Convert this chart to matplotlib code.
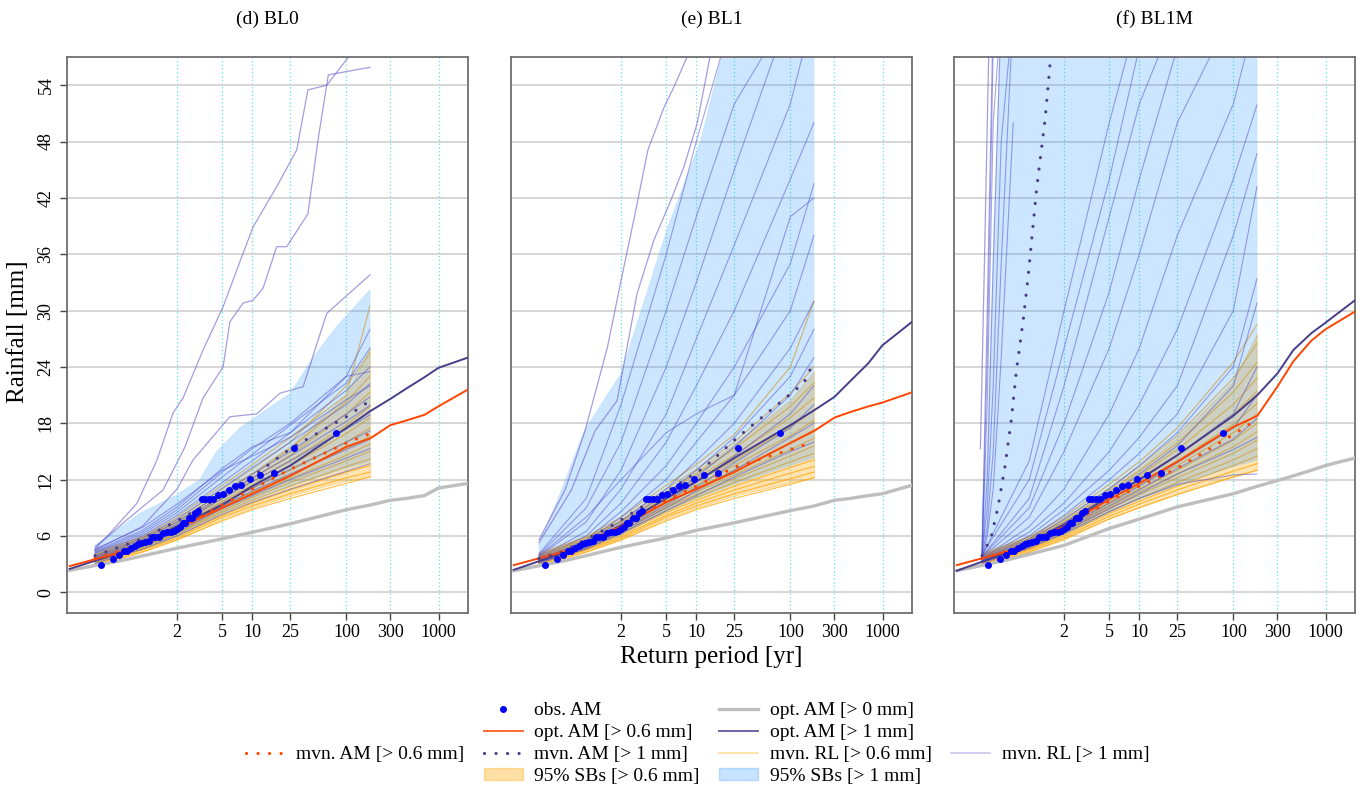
import numpy as np
import matplotlib.pyplot as plt
from matplotlib.lines import Line2D
from matplotlib.patches import Patch

plt.rcParams['font.family'] = ['Liberation Serif', 'DejaVu Serif']

# x positions are Gumbel reduced variates, y = -ln(-ln(1 - 1/T))
def gumbel(T):
    T = np.asarray(T, dtype=float)
    return -np.log(-np.log(1 - 1 / T))

T_TICKS = [2, 5, 10, 25, 100, 300, 1000]
Y_TICKS = [0, 6, 12, 18, 24, 30, 36, 42, 48, 54]
TITLES = ['(d) BL0', '(e) BL1', '(f) BL1M']

# observed annual maxima (same in all panels)
obs_u = [-1.52, -1.24, -1.08, -0.96, -0.87, -0.77, -0.68, -0.60, -0.52, -0.42,
         -0.33, -0.25, -0.17, -0.08, 0.01, 0.11, 0.21, 0.29, 0.38, 0.44,
         0.51, 0.58, 0.67, 0.75, 0.82, 0.90, 0.99, 1.07, 1.18, 1.27,
         1.40, 1.51, 1.66, 1.82, 1.98, 2.20, 2.45, 2.80, 3.30, 4.34]
obs_v = [2.95, 3.5, 3.97, 4.44, 4.40, 4.72, 4.93, 5.11, 5.22, 5.36,
         5.50, 5.89, 5.93, 5.93, 6.32, 6.43, 6.43, 6.53, 6.78, 6.96,
         7.38, 7.38, 7.91, 7.91, 8.41, 8.66, 9.90, 9.90, 9.90, 9.90,
         10.40, 10.47, 10.90, 11.29, 11.43, 12.11, 12.53, 12.71, 15.41, 16.93]

# knots
U_OPT = [-2.31, -1.0, 0.37, 1.5, 2.25, 3.2, 4.6, 5.2, 5.7, 6.1, 6.55, 6.9, 7.64]
U_SB = [-1.68, -0.5, 0.37, 1.5, 2.25, 3.2, 4.6, 5.19]
U_STEEP = [-1.68, -1.55, -1.4, -1.2, -0.9]

# ---- panel (d) BL0 ----
d_opt0 = [2.35, 3.4, 4.7, 5.7, 6.4, 7.3, 8.8, 9.3, 9.8, 10.0, 10.3, 11.1, 11.6]
d_opt06 = [2.8, 4.3, 6.8, 9.0, 10.5, 12.4, 15.5, 16.4, 17.8, 18.3, 18.9, 19.8, 21.6]
d_opt1 = [2.5, 4.3, 7.0, 9.3, 11.3, 13.5, 17.5, 19.3, 20.6, 21.7, 22.9, 23.9, 25.0]
d_mvn06 = [3.6, 5.1, 6.6, 9.3, 11.0, 13.1, 15.9, 16.9]
d_mvn1_u = U_SB
d_mvn1 = [3.9, 5.7, 7.6, 10.3, 12.3, 15.3, 18.7, 20.4]
d_sb06_lo = [2.8, 4.3, 5.6, 7.8, 9.0, 10.3, 11.9, 12.3]
d_sb06_hi = [4.4, 6.0, 7.6, 10.8, 12.8, 15.6, 21.0, 26.0]
d_sb1_lo = [3.1, 4.6, 6.0, 8.4, 9.8, 11.3, 13.2, 13.9]
d_sb1_hi_u = [-1.68, -0.56, 0.37, 0.94, 1.36, 1.94, 3.2, 3.77, 4.36, 5.19]
d_sb1_hi = [5.0, 8.4, 10.4, 12.0, 15.0, 17.5, 21.2, 25.0, 28.3, 32.2]
d_rl06 = [[2.9, 4.3, 5.6, 7.6, 8.8, 10.0, 11.6, 12.3],
          [3.0, 4.5, 5.8, 8.0, 9.2, 10.5, 12.2, 12.8],
          [3.1, 4.6, 6.0, 8.2, 9.5, 10.9, 12.8, 13.5],
          [3.2, 4.7, 6.2, 8.5, 9.8, 11.3, 13.4, 14.2],
          [3.3, 4.8, 6.3, 8.7, 10.1, 11.7, 14.0, 15.0],
          [3.3, 4.9, 6.5, 9.0, 10.4, 12.1, 14.6, 15.8],
          [3.4, 5.0, 6.6, 9.2, 10.7, 12.5, 15.3, 16.6],
          [3.5, 5.1, 6.8, 9.5, 11.1, 13.0, 16.0, 17.5],
          [3.5, 5.2, 6.9, 9.7, 11.4, 13.5, 16.9, 18.6],
          [3.6, 5.3, 7.1, 10.0, 11.8, 14.0, 17.8, 19.8],
          [3.7, 5.4, 7.2, 10.2, 12.1, 14.6, 19.0, 21.3],
          [3.8, 5.6, 7.5, 10.6, 12.6, 15.3, 20.3, 23.0],
          [3.9, 5.7, 7.7, 11.0, 13.1, 16.0, 22.0, 25.5],
          [4.0, 5.9, 8.0, 11.4, 13.6, 16.5, 21.0, 30.5]]
d_rl1 = [[3.1, 4.6, 6.0, 8.3, 9.6, 11.0, 12.9, 13.7],
         [3.3, 4.9, 6.4, 8.9, 10.3, 12.0, 14.3, 15.3],
         [3.4, 5.0, 6.6, 9.2, 10.8, 12.6, 15.2, 16.3],
         [3.5, 5.1, 6.8, 9.5, 11.1, 13.1, 16.0, 17.2],
         [3.6, 5.3, 7.1, 10.0, 11.8, 14.0, 17.4, 18.9],
         [3.7, 5.4, 7.3, 10.3, 12.2, 14.5, 18.2, 19.9],
         [3.8, 5.6, 7.5, 10.6, 12.6, 15.0, 19.0, 20.8],
         [3.9, 5.8, 7.8, 11.1, 13.3, 16.0, 20.0, 22.2],
         [4.1, 6.0, 8.2, 11.7, 14.0, 17.0, 21.5, 24.0],
         [4.2, 6.2, 8.5, 12.3, 14.7, 17.8, 22.3, 26.0],
         [4.3, 6.4, 8.8, 12.8, 15.3, 18.0, 23.0, 23.5],
         [4.4, 6.6, 9.1, 13.2, 15.5, 17.0, 23.0, 28.0],
         [4.6, 6.9, 9.4, 13.0, 14.5, 16.5, 20.5, 22.0]]
d_wild_u = [[-1.68, -1.39, -0.63, -0.13, 0.27, 0.52, 1.02, 1.52, 1.94, 2.27, 2.86, 3.36, 3.64, 4.11, 4.69, 4.9],
            [-1.68, -1.56, -0.89, 0.02, 0.57, 1.02, 1.52, 1.69, 2.02, 2.27, 2.52, 2.86, 3.11, 3.64, 3.89, 4.15, 5.19],
            [-1.68, -0.5, 0.37, 0.77, 1.69, 2.36, 2.94, 3.52, 4.11, 5.19]]
d_wild_v = [[4.8, 5.9, 9.5, 14.1, 19.1, 20.7, 25.8, 30.4, 35.2, 38.9, 43.2, 47.1, 53.5, 54.0, 57.2, 59],
            [4.5, 5.2, 7.7, 10.9, 15.5, 20.7, 24.0, 28.8, 30.8, 31.1, 32.4, 36.8, 36.8, 40.3, 48.1, 55.1, 55.9],
            [4.5, 7.0, 11.0, 14.1, 18.7, 19.0, 21.2, 21.9, 29.7, 33.8]]
d_steep = []

# ---- panel (e) BL1 ----
e_opt0 = [2.3, 3.4, 4.8, 5.8, 6.6, 7.4, 8.7, 9.2, 9.8, 10.0, 10.3, 10.5, 11.4]
e_opt06 = [2.9, 4.4, 7.0, 9.6, 11.0, 12.8, 15.9, 17.2, 18.6, 19.2, 19.8, 20.2, 21.3]
e_opt1 = [2.4, 4.3, 7.1, 10.0, 11.8, 14.3, 17.8, 19.4, 20.8, 22.5, 24.4, 26.3, 28.8]
e_mvn06 = [3.6, 5.2, 7.1, 9.8, 11.3, 13.3, 15.2, 16.0]
e_mvn1_u = [-1.68, -1.16, 0.1, 1.57, 2.45, 3.28, 4.11, 4.94, 5.19]
e_mvn1 = [3.6, 4.15, 7.0, 10.9, 13.3, 16.5, 19.4, 22.3, 24.6]
e_sb06_lo = [2.8, 4.3, 5.6, 7.8, 9.0, 10.3, 11.7, 12.2]
e_sb06_hi = [4.3, 6.0, 7.6, 10.8, 12.9, 15.8, 20.5, 23.5]
e_sb1_lo = [3.2, 4.7, 6.1, 8.6, 10.0, 11.5, 13.5, 14.3]
e_sb1_hi_u = [-1.68, -1.2, -0.55, 0.37, 0.76, 1.54, 2.36, 2.91, 5.19]
e_sb1_hi = [5.2, 10.0, 17.2, 23.3, 28.5, 38.9, 48.1, 57.5, 62]
e_rl06 = [[2.9, 4.3, 5.6, 7.6, 8.8, 10.0, 11.5, 12.2],
          [3.0, 4.5, 5.8, 8.0, 9.2, 10.5, 12.1, 12.8],
          [3.1, 4.6, 6.0, 8.2, 9.5, 10.9, 12.7, 13.4],
          [3.2, 4.7, 6.2, 8.5, 9.8, 11.3, 13.3, 14.1],
          [3.3, 4.8, 6.3, 8.7, 10.1, 11.7, 13.9, 14.8],
          [3.3, 4.9, 6.5, 9.0, 10.4, 12.1, 14.5, 15.6],
          [3.4, 5.0, 6.6, 9.2, 10.7, 12.5, 15.2, 16.4],
          [3.5, 5.1, 6.8, 9.5, 11.1, 13.0, 15.9, 17.3],
          [3.5, 5.2, 6.9, 9.7, 11.4, 13.5, 16.7, 18.3],
          [3.6, 5.3, 7.1, 10.0, 11.8, 14.0, 17.6, 19.4],
          [3.7, 5.4, 7.2, 10.2, 12.1, 14.6, 18.6, 20.7],
          [3.8, 5.6, 7.5, 10.6, 12.6, 15.3, 19.8, 22.3],
          [3.9, 5.7, 7.7, 11.0, 13.1, 16.0, 21.2, 24.0],
          [4.0, 5.9, 8.0, 11.4, 13.6, 16.8, 24.0, 31.0]]
e_rl1 = [[4.0, 9.0, 16.0, 30.0, 40.0, 52.0, 62, 62],
         [3.8, 7.5, 13.0, 24.0, 33.0, 45.0, 62, 62],
         [3.7, 6.5, 11.0, 19.0, 27.0, 37.0, 52.0, 62],
         [3.6, 6.0, 9.5, 16.0, 22.0, 30.0, 44.0, 50.0],
         [3.5, 5.6, 8.6, 13.5, 18.0, 24.0, 35.0, 43.5],
         [3.5, 5.4, 8.0, 12.0, 16.0, 21.0, 30.0, 38.0],
         [3.4, 5.2, 7.6, 11.0, 14.0, 18.0, 26.0, 31.0],
         [3.4, 5.1, 7.3, 10.5, 13.0, 16.5, 23.0, 28.0],
         [3.3, 5.0, 7.1, 10.0, 12.3, 15.5, 21.0, 25.0],
         [3.3, 4.9, 6.9, 9.6, 11.7, 14.5, 19.0, 22.0],
         [3.2, 4.8, 6.7, 9.3, 11.2, 13.8, 17.5, 20.0],
         [3.2, 4.7, 6.5, 9.0, 10.8, 13.0, 16.5, 18.0],
         [3.1, 4.6, 6.3, 8.7, 10.3, 12.3, 15.0, 16.0],
         [3.9, 8.0, 12.0, 17.0, 19.0, 21.0, 40.0, 42.0],
         [4.1, 10.0, 20.0, 36.0, 48.0, 62, 62, 62]]
e_wild_u = [[-1.68, -1.03, -0.53, 0.03, 0.37, 0.72, 1.04, 1.45, 1.69, 2.04, 2.3],
            [-1.68, -0.87, -0.28, 0.27, 0.77, 1.19, 1.61, 1.94, 2.27, 2.6, 2.8]]
e_wild_v = [[5.6, 10.9, 17.2, 26.1, 33.2, 40.3, 47.1, 51.7, 53.8, 57.2, 59],
            [5.3, 10.9, 17.2, 20.4, 31.8, 37.5, 41.7, 45.3, 49.9, 57.2, 59]]
e_steep = []

# ---- panel (f) BL1M ----
f_opt0 = [2.3, 3.5, 5.0, 6.8, 7.8, 9.1, 10.5, 11.3, 11.9, 12.4, 13.0, 13.5, 14.3]
f_opt06 = [2.9, 4.4, 7.0, 9.9, 11.6, 13.9, 17.6, 18.8, 21.9, 24.6, 26.8, 28.0, 29.9]
f_opt1 = [2.3, 4.3, 7.2, 10.2, 12.0, 14.6, 18.8, 21.0, 23.3, 25.8, 27.6, 28.7, 31.1]
f_mvn06 = [3.6, 5.1, 6.9, 9.7, 11.3, 13.2, 16.8, 18.4]
f_mvn1_u = [-1.68, -1.45, -1.28, -1.11, -0.95, -0.82, -0.65, -0.53, -0.32, -0.1, 0.04, 0.1]
f_mvn1 = [3.9, 5.9, 9.1, 13.3, 18.3, 23.6, 29.0, 33.5, 42.8, 50.5, 57.2, 59]
f_sb06_lo = [2.8, 4.3, 5.6, 7.9, 9.1, 10.5, 12.3, 13.0]
f_sb06_hi = [4.3, 6.0, 7.6, 11.0, 13.2, 16.5, 22.5, 27.5]
f_sb1_lo = [3.3, 4.8, 6.1, 8.5, 9.9, 11.4, 13.4, 14.1]
f_sb1_hi_u = [-1.68, -1.55, -1.45, -1.23, 5.19]
f_sb1_hi = [9.2, 15.0, 29.0, 57.5, 62]
f_rl06 = [[2.9, 4.3, 5.7, 7.8, 9.0, 10.4, 12.3, 13.0],
          [3.0, 4.5, 5.9, 8.1, 9.4, 10.9, 12.9, 13.7],
          [3.1, 4.6, 6.1, 8.4, 9.7, 11.3, 13.5, 14.5],
          [3.2, 4.7, 6.2, 8.6, 10.0, 11.7, 14.1, 15.3],
          [3.3, 4.8, 6.4, 8.9, 10.4, 12.2, 14.8, 16.2],
          [3.3, 4.9, 6.5, 9.1, 10.7, 12.6, 15.5, 17.1],
          [3.4, 5.0, 6.7, 9.4, 11.0, 13.0, 16.2, 18.0],
          [3.5, 5.1, 6.8, 9.6, 11.4, 13.5, 17.0, 19.0],
          [3.5, 5.2, 7.0, 9.9, 11.7, 14.0, 17.9, 20.1],
          [3.6, 5.3, 7.1, 10.1, 12.1, 14.6, 18.9, 21.4],
          [3.7, 5.4, 7.3, 10.4, 12.4, 15.2, 20.0, 22.8],
          [3.8, 5.6, 7.5, 10.7, 12.9, 15.9, 21.3, 24.5],
          [3.9, 5.7, 7.7, 11.1, 13.4, 16.7, 22.8, 26.5],
          [4.0, 5.9, 8.0, 11.5, 13.9, 17.5, 24.5, 28.5]]
f_rl1 = [[3.9, 14.0, 30.0, 50.0, 62, 62, 62, 62],
         [3.8, 10.0, 22.0, 40.0, 52.0, 62, 62, 62],
         [3.7, 8.0, 15.0, 26.0, 36.0, 50.0, 62, 62],
         [3.6, 7.0, 11.0, 19.0, 26.0, 38.0, 52.0, 62],
         [3.6, 6.4, 9.5, 15.0, 20.0, 28.0, 44.0, 51.9],
         [3.5, 6.0, 8.8, 13.0, 16.5, 22.0, 38.0, 46.7],
         [3.5, 5.7, 8.2, 12.0, 14.8, 19.0, 30.0, 43.2],
         [3.4, 5.5, 7.8, 11.0, 13.5, 17.0, 24.0, 33.4],
         [3.4, 5.3, 7.4, 10.4, 12.6, 15.6, 22.0, 30.8],
         [3.3, 5.1, 7.1, 9.9, 11.9, 14.6, 19.0, 24.0],
         [3.3, 5.0, 6.9, 9.5, 11.3, 13.8, 17.5, 21.0],
         [3.2, 4.9, 6.7, 9.2, 10.9, 13.2, 16.3, 18.5],
         [3.2, 4.8, 6.5, 8.9, 10.5, 12.6, 15.2, 16.5],
         [3.1, 4.7, 6.3, 8.6, 10.0, 11.5, 12.5, 12.6],
         [4.0, 12.0, 26.0, 44.0, 58.0, 62, 62, 62],
         [3.8, 9.0, 18.0, 32.0, 44.0, 58.0, 62, 62]]
f_steep = [[4.0, 20.0, 50.0, 62, 62],
           [3.8, 12.0, 35.0, 62, 62],
           [4.2, 30.0, 62, 62, 62],
           [3.9, 9.0, 22.0, 48.0, 62],
           [3.7, 7.0, 15.0, 35.0, 62],
           [4.1, 25.0, 58.0, 62, 62],
           [3.6, 6.0, 11.0, 25.0, 50.0]]
f_wild_u = [[-1.72, -1.62, -1.5]]
f_wild_v = [[15.3, 35.0, 60.0]]

panels = [
    (d_opt0, d_opt06, d_opt1, d_mvn06, d_mvn1_u, d_mvn1, d_sb06_lo, d_sb06_hi,
     d_sb1_lo, d_sb1_hi_u, d_sb1_hi, d_rl06, d_rl1, d_wild_u, d_wild_v, d_steep),
    (e_opt0, e_opt06, e_opt1, e_mvn06, e_mvn1_u, e_mvn1, e_sb06_lo, e_sb06_hi,
     e_sb1_lo, e_sb1_hi_u, e_sb1_hi, e_rl06, e_rl1, e_wild_u, e_wild_v, e_steep),
    (f_opt0, f_opt06, f_opt1, f_mvn06, f_mvn1_u, f_mvn1, f_sb06_lo, f_sb06_hi,
     f_sb1_lo, f_sb1_hi_u, f_sb1_hi, f_rl06, f_rl1, f_wild_u, f_wild_v, f_steep),
]

C_OPT0 = '#BEBEBE'
C_OPT06 = '#FF4500'
C_OPT1 = '#483D8B'
C_RL06 = '#FFA500'
C_RL1 = '#4B4BD0'
C_SB1 = '#1E90FF'
DOTS = (0, (0.01, 3.6))

fig = plt.figure(figsize=(13.65, 7.87), dpi=100)
lefts = [67, 511, 954]
axes = []
for i, p in enumerate(panels):
    (opt0, opt06, opt1, mvn06, mvn1_u, mvn1, sb06_lo, sb06_hi,
     sb1_lo, sb1_hi_u, sb1_hi, rl06, rl1, wild_u, wild_v, steep) = p
    ax = fig.add_axes([lefts[i] / 1365, 1 - 613 / 787, 401 / 1365, 556 / 787])
    axes.append(ax)

    # 95% SBs > 0.6 mm
    ax.fill_between(U_SB, sb06_lo, sb06_hi, facecolor=C_RL06, alpha=0.3,
                    edgecolor=C_RL06, lw=0.8, zorder=1.5)
    for v in rl06:
        ax.plot(U_SB, v, color=C_RL06, lw=0.8, alpha=0.75, zorder=2)
    # 95% SBs > 1 mm
    poly_u = np.concatenate([sb1_hi_u, U_SB[::-1]])
    poly_v = np.concatenate([sb1_hi, sb1_lo[::-1]])
    ax.fill(poly_u, poly_v, facecolor=C_SB1, alpha=0.22, edgecolor='#7EC8F5',
            lw=0.9, zorder=2.5)
    for v in rl1:
        ax.plot(U_SB, v, color=C_RL1, lw=0.8, alpha=0.5, zorder=3)
    for v in steep:
        ax.plot(U_STEEP, v, color=C_RL1, lw=0.8, alpha=0.5, zorder=3)
    for u, v in zip(wild_u, wild_v):
        ax.plot(u, v, color='#6A5ACD', lw=0.9, alpha=0.6, zorder=3)

    ax.plot(U_OPT, opt0, color=C_OPT0, lw=2.4, zorder=4)
    ax.plot(U_OPT, opt06, color=C_OPT06, lw=1.4, zorder=4.2)
    ax.plot(U_OPT, opt1, color=C_OPT1, lw=1.4, zorder=4.1)
    ax.plot(U_SB, mvn06, color=C_OPT06, lw=2.3, ls=DOTS, dash_capstyle='round', zorder=4.5)
    ax.plot(mvn1_u, mvn1, color=C_OPT1, lw=2.3, ls=DOTS, dash_capstyle='round', zorder=4.5)
    ax.plot(obs_u, obs_v, ls='', marker='o', ms=4.0, color='blue', zorder=5)

    ax.set_xlim(-2.38, 7.64)
    ax.set_ylim(-2.2, 57)
    ax.set_xticks(gumbel(T_TICKS))
    ax.set_xticklabels([str(t) for t in T_TICKS])
    ax.set_yticks(Y_TICKS)
    ax.grid(axis='y', color='#D3D3D3', lw=1.3)
    ax.grid(axis='x', color='#5FE3E3', lw=0.9, ls=(0, (1, 2)))
    ax.set_axisbelow(True)
    for s in ax.spines.values():
        s.set_color('#6E6E6E')
        s.set_linewidth(1.3)
    ax.tick_params(axis='x', labelsize=13, length=5, width=1, color='#444444', pad=3)
    if i == 0:
        ax.tick_params(axis='y', labelsize=13, length=5, width=1, color='#444444',
                       pad=4, labelrotation=90)
        for lab in ax.get_yticklabels():
            lab.set_va('center')
    else:
        ax.tick_params(axis='y', left=False, labelleft=False)
    ax.set_title(TITLES[i], fontsize=14, pad=24)

fig.text(0.521, 0.165, 'Return period [yr]', ha='center', va='center', fontsize=18)
fig.text(0.013, 0.578, 'Rainfall [mm]', ha='center', va='center', rotation=90, fontsize=18)

blank = Line2D([], [], alpha=0)
h_obs = Line2D([], [], ls='', marker='o', ms=4.0, color='blue')
h_opt0 = Line2D([], [], color=C_OPT0, lw=2.4)
h_opt06 = Line2D([], [], color=C_OPT06, lw=1.4, alpha=0.8)
h_opt1 = Line2D([], [], color=C_OPT1, lw=1.4, alpha=0.8)
h_mvn06 = Line2D([], [], color=C_OPT06, lw=2.3, ls=DOTS, dash_capstyle='round')
h_mvn1 = Line2D([], [], color=C_OPT1, lw=2.3, ls=DOTS, dash_capstyle='round')
h_rl06 = Line2D([], [], color=C_RL06, lw=1.2, alpha=0.4)
h_rl1 = Line2D([], [], color='#6A5ACD', lw=1.2, alpha=0.35)
h_sb06 = Patch(facecolor=C_RL06, alpha=0.35, edgecolor=C_RL06)
h_sb1 = Patch(facecolor=C_SB1, alpha=0.25, edgecolor=C_SB1)

handles = [blank, blank, h_mvn06, blank,
           h_obs, h_opt06, h_mvn1, h_sb06,
           h_opt0, h_opt1, h_rl06, h_sb1,
           blank, blank, h_rl1, blank]
labels = ['', '', 'mvn. AM [> 0.6 mm]', '',
          'obs. AM', 'opt. AM [> 0.6 mm]', 'mvn. AM [> 1 mm]', '95% SBs [> 0.6 mm]',
          'opt. AM [> 0 mm]', 'opt. AM [> 1 mm]', 'mvn. RL [> 0.6 mm]', '95% SBs [> 1 mm]',
          '', '', 'mvn. RL [> 1 mm]', '']
fig.legend(handles, labels, ncol=4, loc='center', bbox_to_anchor=(0.511, 0.055),
           frameon=False, fontsize=14, handlelength=2.0, handletextpad=0.6,
           columnspacing=1.0, labelspacing=0.25, handleheight=0.6)

fig.savefig('out.png', dpi=100)
